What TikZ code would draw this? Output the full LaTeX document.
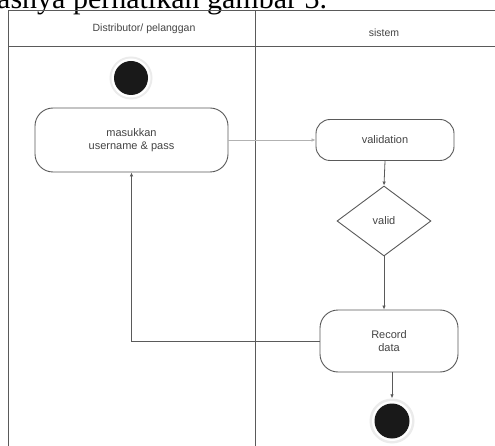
\documentclass[tikz,border=0pt]{standalone}
\usepackage{fontspec}
\setmainfont{Liberation Sans}
\newfontfamily\serifont{Liberation Serif}
\usetikzlibrary{shapes.geometric,arrows.meta}
\definecolor{ln}{HTML}{5A5A5A}
\definecolor{tx}{HTML}{444444}
\begin{document}
\begin{tikzpicture}[x=1pt,y=-1pt,
  lane/.style={draw=ln,line width=1pt},
  act/.style={draw=ln,line width=0.9pt,rounded corners=18pt,text=tx,font=\fontsize{11}{13.5}\selectfont,align=center,inner sep=0pt},
  dec/.style={draw=ln,line width=0.9pt,diamond,text=tx,font=\fontsize{11}{13.5}\selectfont,inner sep=0pt,minimum width=94pt,minimum height=70pt,aspect=1.34},
  flow/.style={draw=ln,line width=0.8pt,-{Latex[length=4pt,width=3.5pt]}},
  lbl/.style={text=tx,font=\fontsize{10.5}{12}\selectfont}]
\useasboundingbox (0,0) rectangle (495,446);
\fill[white] (0,0) rectangle (495,446);
% caption fragment (cut at the top, as in the reference)
\node[anchor=base west,inner sep=0pt,font=\serifont\fontsize{30}{34}\selectfont] (cap) at (-3,9) {asnya perhatikan gambar 3.};
% swimlanes
\coordinate (tl) at (8,11);
\coordinate (tr) at (497,11);
\coordinate (hl) at (8,47);
\coordinate (hr) at (497,47);
\coordinate (bl) at (8,448);
\coordinate (mt) at (255,11);
\coordinate (mb) at (255,448);
\draw[lane] (tr) -- (tl) -- (bl);
\draw[lane] (hl) -- (hr);
\draw[lane] (mt) -- (mb);
\node[lbl] (h1) at (144,29) {Distributor/ pelanggan};
\node[lbl] (h2) at (384,33) {sistem};
% nodes
\node[circle,fill=black!8,minimum size=43pt,inner sep=0pt] (s0) at (131,78) {};
\node[circle,fill=white,minimum size=39pt,inner sep=0pt] at (131,78) {};
\node[circle,fill=black!90,minimum size=34pt,inner sep=0pt] (start) at (131,78) {};
\node[act,minimum width=193pt,minimum height=64pt] (inp) at (131.5,140) {masukkan\\username \& pass};
\node[act,minimum width=138pt,minimum height=41pt,rounded corners=14pt] (val) at (385,140) {validation};
\node[dec] (dv) at (384,221) {valid};
\node[act,minimum width=138pt,minimum height=62pt] (rec) at (389,341) {Record\\data};
\node[circle,fill=black!8,minimum size=45pt,inner sep=0pt] (e0) at (392,421) {};
\node[circle,fill=white,minimum size=40pt,inner sep=0pt] at (392,421) {};
\node[circle,fill=black!90,minimum size=35pt,inner sep=0pt] (fin) at (392,421) {};
% flows
\draw[flow,draw=black!30,line width=0.6pt] (inp.east) -- (val.west);
\draw[flow] (val.south) -- (dv.north);
\draw[flow] (dv.south) -- (dv.south |- rec.north);
\draw[flow] (rec.west) -| (inp.south);
\draw[flow] ([xshift=3pt]rec.south) -- ([xshift=3pt]rec.south |- e0.north);
\end{tikzpicture}
\end{document}
